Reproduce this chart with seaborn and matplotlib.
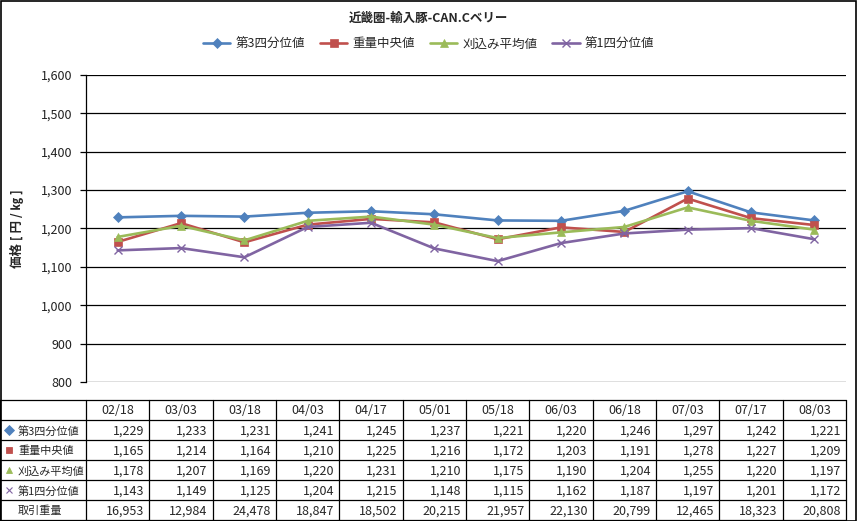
import seaborn as sns
import matplotlib.pyplot as plt
import matplotlib.patches as mpatches
from matplotlib.ticker import FuncFormatter
import pandas as pd

# chart data
title = "近畿圏-輸入豚-CAN.Cベリー"
dates = ["02/18", "03/03", "03/18", "04/03", "04/17", "05/01",
         "05/18", "06/03", "06/18", "07/03", "07/17", "08/03"]
q3 = [1229, 1233, 1231, 1241, 1245, 1237, 1221, 1220, 1246, 1297, 1242, 1221]
median_w = [1165, 1214, 1164, 1210, 1225, 1216, 1172, 1203, 1191, 1278, 1227, 1209]
trimmed_mean = [1178, 1207, 1169, 1220, 1231, 1210, 1175, 1190, 1204, 1255, 1220, 1197]
q1 = [1143, 1149, 1125, 1204, 1215, 1148, 1115, 1162, 1187, 1197, 1201, 1172]
volume = [16953, 12984, 24478, 18847, 18502, 20215, 21957, 22130, 20799, 12465, 18323, 20808]

series_names = ["第3四分位値", "重量中央値", "刈込み平均値", "第1四分位値"]
series_vals = [q3, median_w, trimmed_mean, q1]
colors = ["#4F81BD", "#C0504D", "#9BBB59", "#8064A2"]
markers = ["D", "s", "^", "x"]

sns.set_theme(style="white")
plt.rcParams["font.family"] = ["Noto Sans CJK JP", "DejaVu Sans"]
plt.rcParams["font.size"] = 9

W, H = 857, 521
fig = plt.figure(figsize=(W / 100, H / 100), dpi=100)

# plot area (pixel layout of the reference)
left, right, top, bottom = 86, 846, 75, 382
ax = fig.add_axes([left / W, 1 - bottom / H, (right - left) / W, (bottom - top) / H])

x = list(range(len(dates)))
for name, vals, c, m in zip(series_names, series_vals, colors, markers):
    df = pd.DataFrame({"x": x, "y": vals})
    sns.lineplot(data=df, x="x", y="y", ax=ax, color=c, marker=m, lw=1.9,
                 markersize=5.5 if m != "x" else 6, markeredgecolor=c,
                 markeredgewidth=1 if m == "x" else 0.5, label=name, legend=False)

ax.set_xlim(-0.5, len(dates) - 0.5)
ax.set_ylim(800, 1600)
ax.set_yticks(range(800, 1601, 100))
ax.yaxis.set_major_formatter(FuncFormatter(lambda v, p: f"{int(v):,}"))
ax.set_xticks([])
ax.set_xlabel("")
ax.set_ylabel("価格 [ 円 / ㎏ ]", fontweight="bold", fontsize=9, labelpad=12)
ax.yaxis.grid(True, color="black", lw=0.9)
ax.tick_params(axis="y", which="major", left=True, length=4, width=0.9,
               color="black", labelsize=9, labelcolor="#222222", pad=6)
for s in ["top", "right", "bottom"]:
    ax.spines[s].set_visible(False)
ax.spines["left"].set_color("black")
ax.spines["left"].set_linewidth(0.9)

fig.text(0.5, 1 - 18 / H, title, ha="center", va="center",
         fontweight="bold", fontsize=9)
handles, labels = ax.get_legend_handles_labels()
fig.legend(handles, labels, loc="center", bbox_to_anchor=(0.5, 1 - 44 / H),
           ncol=4, frameon=False, fontsize=9, handlelength=2.2,
           columnspacing=1.2, handletextpad=0.4)

# data table below the plot
tab_top, tab_bot = 400, 520
tab = fig.add_axes([left / W, 1 - tab_bot / H, (right - left) / W, (tab_bot - tab_top) / H])
tab.set_xlim(-0.5, len(dates) - 0.5)
nrows = 6
tab.set_ylim(nrows, 0)
tab.axis("off")
unit = (right - left) / len(dates)
x0 = -0.5 - left / unit

for r in range(nrows + 1):
    tab.plot([x0, len(dates) - 0.5], [r, r], color="black", lw=0.9, clip_on=False)
for c in [x0, -0.5] + [i + 0.5 for i in x]:
    tab.plot([c, c], [0, nrows], color="black", lw=0.9, clip_on=False)

for i, d in enumerate(dates):
    tab.text(i, 0.55, d, ha="center", va="center", fontsize=9)

rows = series_vals + [volume]
row_labels = series_names + ["取引重量"]
for r, (lab, vals) in enumerate(zip(row_labels, rows), start=1):
    tab.text(x0 + 18 / unit, r + 0.72, lab, ha="left", va="baseline",
             fontsize=8, clip_on=False)
    if r <= len(series_names):
        m = markers[r - 1]
        tab.plot([x0 + 9 / unit], [r + 0.5], marker=m, color=colors[r - 1],
                 markersize=5 if m != "x" else 4.5, markeredgewidth=0.6 if m != "x" else 0.8,
                 clip_on=False)
    for i, v in enumerate(vals):
        tab.text(i + 0.5 - 5 / unit, r + 0.55, f"{v:,}", ha="right", va="center", fontsize=9)

# outer frame
fig.add_artist(mpatches.Rectangle((0.5 / W, 0.5 / H), 1 - 1.5 / W, 1 - 1.5 / H,
                                  transform=fig.transFigure, fill=False,
                                  edgecolor="black", lw=1.2))

fig.savefig("out.png", dpi=100)
